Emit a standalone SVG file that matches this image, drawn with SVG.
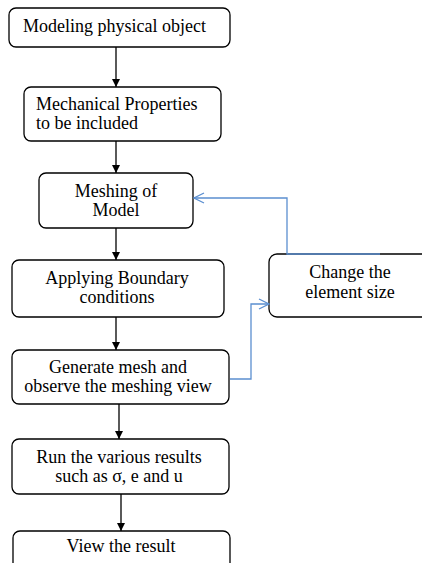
<svg xmlns="http://www.w3.org/2000/svg" width="422" height="563" viewBox="0 0 422 563">
<defs>
<style>
.box{fill:#fff;stroke:#000;stroke-width:1.3}
.t{font-family:"Liberation Serif","Times New Roman",serif;font-size:18px;fill:#000}
.c{text-anchor:middle}
.arr{stroke:#000;stroke-width:1.3;fill:none}
.blue{stroke:#5b8fd0;stroke-width:1.3;fill:none}
</style>
<marker id="ah" markerWidth="8" markerHeight="8" refX="8" refY="4" orient="auto" markerUnits="userSpaceOnUse">
<path d="M0,0 L8,4 L0,8 Z" fill="#000"/>
</marker>
<marker id="ob" markerWidth="12" markerHeight="12" refX="11" refY="6" orient="auto" markerUnits="userSpaceOnUse">
<path d="M1,1 L11,6 L1,11" fill="none" stroke="#5b8fd0" stroke-width="1.3"/>
</marker>
</defs>
<rect width="422" height="563" fill="#fff"/>
<g id="n1"><rect class="box" x="9" y="8" width="221" height="39" rx="7"/><text class="t" x="23" y="32">Modeling physical object</text></g>
<g id="n2"><rect class="box" x="24" y="87" width="197" height="54" rx="7"/><text class="t" x="36" y="110">Mechanical Properties</text><text class="t" x="36" y="129">to be included</text></g>
<g id="n3"><rect class="box" x="39" y="173" width="154" height="55" rx="7"/><text class="t c" x="116" y="197">Meshing of</text><text class="t c" x="116" y="216">Model</text></g>
<g id="n4"><rect class="box" x="12" y="260" width="212" height="57" rx="7"/><text class="t c" x="117" y="284">Applying Boundary</text><text class="t c" x="117" y="303">conditions</text></g>
<g id="n5"><rect class="box" x="269" y="254" width="170" height="63" rx="8"/><text class="t c" x="350" y="278">Change the</text><text class="t c" x="350" y="298">element size</text></g>
<g id="n6"><rect class="box" x="12" y="350" width="217" height="54" rx="7"/><text class="t c" x="118" y="373">Generate mesh and</text><text class="t c" x="118" y="392">observe the meshing view</text></g>
<g id="n7"><rect class="box" x="12" y="439" width="217" height="55" rx="7"/><text class="t c" x="119" y="463">Run the various results</text><text class="t c" x="119" y="482">such as σ, e and u</text></g>
<g id="n8"><rect class="box" x="13" y="531" width="217" height="45" rx="7"/><text class="t c" x="121" y="552">View the result</text></g>
<g id="connectors">
<line class="arr" x1="116" y1="47" x2="116" y2="87" marker-end="url(#ah)"/>
<line class="arr" x1="116" y1="141" x2="116" y2="173" marker-end="url(#ah)"/>
<line class="arr" x1="116" y1="228" x2="116" y2="260" marker-end="url(#ah)"/>
<line class="arr" x1="116" y1="317" x2="116" y2="350" marker-end="url(#ah)"/>
<line class="arr" x1="119" y1="404" x2="119" y2="439" marker-end="url(#ah)"/>
<line class="arr" x1="121" y1="494" x2="121" y2="531" marker-end="url(#ah)"/>
<path class="blue" d="M380,254 H287 V198 H194" marker-end="url(#ob)"/>
<path class="blue" d="M230,379 H251 V304 H269" marker-end="url(#ob)"/>
</g>
</svg>
